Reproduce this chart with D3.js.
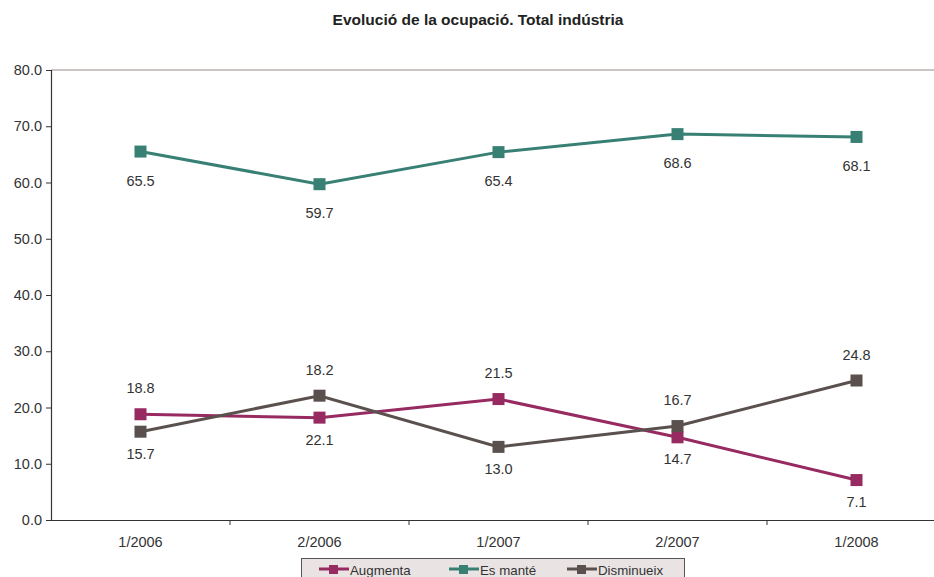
<!DOCTYPE html>
<html>
<head>
<meta charset="utf-8">
<script src="https://cdn.jsdelivr.net/npm/d3@7"></script>
<style>
  body { margin: 0; background: #fff; }
  svg { display: block; font-family: "Liberation Sans", Arial, Helvetica, sans-serif; }
</style>
</head>
<body>
<svg id="chart" width="934" height="577"></svg>
<script>
const title = "Evolució de la ocupació. Total indústria";
const categories = ["1/2006", "2/2006", "1/2007", "2/2007", "1/2008"];
const seriesNames = ["Augmenta", "Es manté", "Disminueix"];
const augmenta = [18.8, 18.2, 21.5, 14.7, 7.1];
const esMante = [65.5, 59.7, 65.4, 68.6, 68.1];
const disminueix = [15.7, 22.1, 13.0, 16.7, 24.8];
const yTicks = [0, 10, 20, 30, 40, 50, 60, 70, 80];
// which of the two lower series has its label printed above the pair (as in the source chart)
const upperLabelSeries = ["Augmenta", "Augmenta", "Augmenta", "Disminueix", "Disminueix"];
const colors = { "Augmenta": "#962a61", "Es manté": "#388074", "Disminueix": "#5a504d" };

const series = [
  { name: "Augmenta", values: augmenta },
  { name: "Es manté", values: esMante },
  { name: "Disminueix", values: disminueix }
];

const svg = d3.select("#chart");

const x = d3.scaleBand().domain(categories).range([51, 946]);
const y = d3.scaleLinear().domain([0, 80]).range([520, 70]);

// title
svg.append("text")
  .attr("x", 478).attr("y", 25)
  .attr("text-anchor", "middle")
  .attr("font-size", 15.5).attr("font-weight", "bold")
  .attr("fill", "#222")
  .text(title);

// top border line at 80
svg.append("line")
  .attr("x1", 51).attr("x2", 946)
  .attr("y1", y(80)).attr("y2", y(80))
  .attr("stroke", "#9a8888").attr("stroke-width", 1);

// y axis
const yAxis = svg.append("g")
  .attr("transform", "translate(51,0)")
  .call(d3.axisLeft(y).tickValues(yTicks).tickFormat(d3.format(".1f")).tickSize(5).tickPadding(4));
yAxis.select(".domain").attr("stroke", "#333").attr("stroke-width", 1.2);
yAxis.selectAll(".tick line").attr("stroke", "#333");
yAxis.selectAll(".tick text").attr("font-size", 14.5).attr("fill", "#333")
  .attr("font-family", "Liberation Sans, Arial, sans-serif");

// x axis
const xAxis = svg.append("g")
  .attr("transform", "translate(0,520)")
  .call(d3.axisBottom(x).tickSize(0).tickPadding(17));
xAxis.select(".domain").attr("stroke", "#333").attr("stroke-width", 1.2);
xAxis.selectAll(".tick text").attr("font-size", 14.5).attr("fill", "#333")
  .attr("font-family", "Liberation Sans, Arial, sans-serif");
// boundary ticks
xAxis.selectAll(".bound").data(categories.slice(1))
  .enter().append("line")
  .attr("class", "bound")
  .attr("x1", d => x(d)).attr("x2", d => x(d))
  .attr("y1", 0).attr("y2", 5)
  .attr("stroke", "#333");

const cx = d => x(d) + x.bandwidth() / 2;

const line = d3.line()
  .x((d, i) => cx(categories[i]))
  .y(d => y(d));

series.forEach(s => {
  svg.append("path")
    .datum(s.values)
    .attr("d", line)
    .attr("fill", "none")
    .attr("stroke", colors[s.name])
    .attr("stroke-width", 3);
});
series.forEach(s => {
  svg.selectAll(null).data(s.values).enter().append("rect")
    .attr("x", (d, i) => cx(categories[i]) - 6)
    .attr("y", d => y(d) - 6)
    .attr("width", 12).attr("height", 12)
    .attr("fill", colors[s.name]);
});

// labels
const lab = (xx, yy, t) => svg.append("text")
  .attr("x", xx).attr("y", yy)
  .attr("text-anchor", "middle")
  .attr("dominant-baseline", "central")
  .attr("font-size", 14.5).attr("fill", "#333")
  .text(t);

esMante.forEach((v, i) => lab(cx(categories[i]), y(v) + 29, v.toFixed(1)));

categories.forEach((c, i) => {
  const a = augmenta[i], d = disminueix[i];
  const topVal = Math.max(a, d), botVal = Math.min(a, d);
  const upText = upperLabelSeries[i] === "Augmenta" ? a : d;
  const lowText = upperLabelSeries[i] === "Augmenta" ? d : a;
  lab(cx(c), y(topVal) - 26, upText.toFixed(1));
  lab(cx(c), y(botVal) + 22, lowText.toFixed(1));
});

// legend
const lg = svg.append("g");
lg.append("rect")
  .attr("x", 301.5).attr("y", 558.5).attr("width", 383).attr("height", 30)
  .attr("fill", "#e9e3e3").attr("stroke", "#555").attr("stroke-width", 1);
const legendX = [319, 449, 567];
series.forEach((s, i) => {
  const g = lg.append("g").attr("transform", `translate(${legendX[i]},569)`);
  g.append("line").attr("x1", 0).attr("x2", 30).attr("y1", 0).attr("y2", 0)
    .attr("stroke", colors[s.name]).attr("stroke-width", 3);
  g.append("rect").attr("x", 10).attr("y", -4).attr("width", 9).attr("height", 9)
    .attr("fill", colors[s.name]);
  g.append("text").attr("x", 31).attr("y", 1.5)
    .attr("dominant-baseline", "central")
    .attr("font-size", 13.3).attr("fill", "#333")
    .text(s.name);
});
</script>
</body>
</html>
